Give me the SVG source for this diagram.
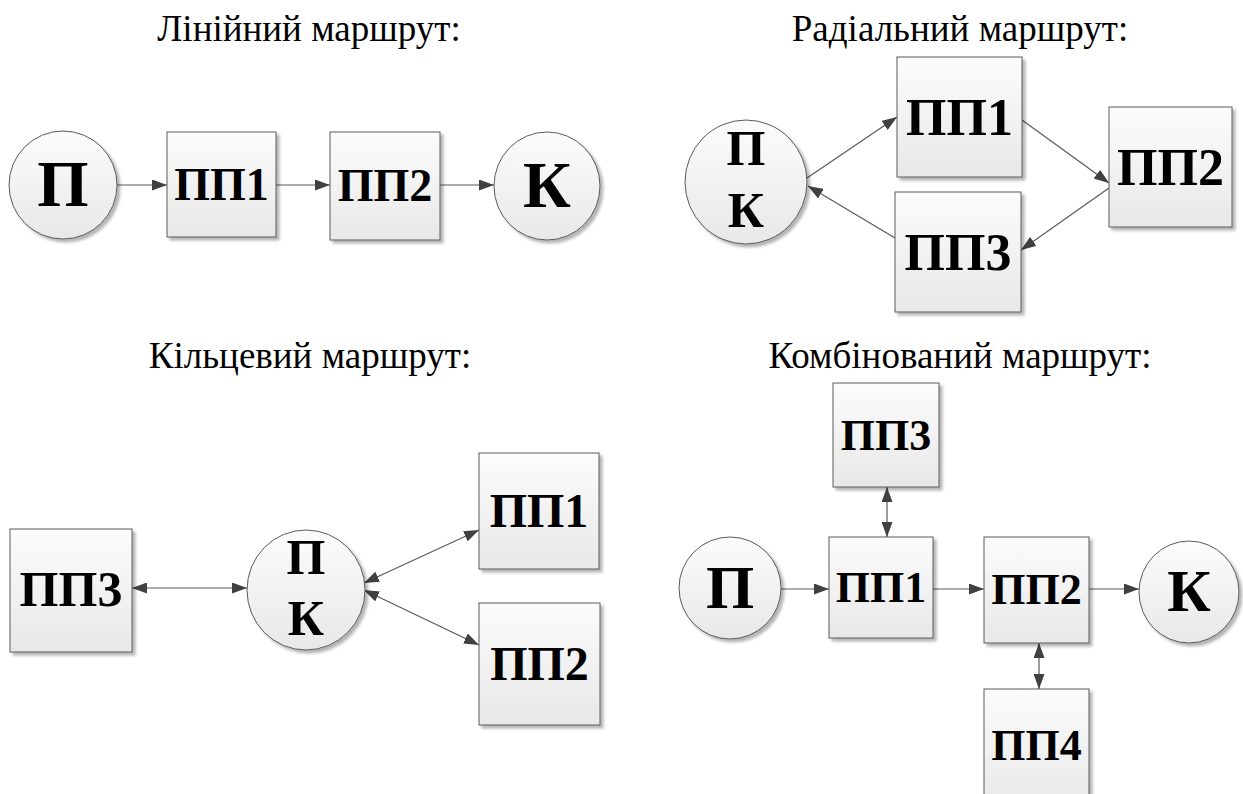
<svg xmlns="http://www.w3.org/2000/svg" width="1243" height="794" viewBox="0 0 1243 794">
<style>
.title{font-family:"Liberation Serif","Times New Roman",serif;font-size:37px;fill:#000;text-anchor:middle}
.lbl{font-family:"Liberation Serif","Times New Roman",serif;font-weight:bold;fill:#000;text-anchor:middle}
.box{fill:url(#g);stroke:#5a5a5a;stroke-width:1;filter:url(#sh)}
.circ{fill:url(#g);stroke:#5a5a5a;stroke-width:1;filter:url(#sh)}
.c{stroke:#5a5a5a;stroke-width:1.2;fill:none}
.a{marker-end:url(#ah)}
.b{marker-start:url(#ah);marker-end:url(#ah)}
</style>
<defs>
<linearGradient id="g" x1="0" y1="0" x2="0" y2="1">
<stop offset="0" stop-color="#fcfcfc"/>
<stop offset="1" stop-color="#e8e8e8"/>
</linearGradient>
<filter id="sh" x="-10%" y="-10%" width="130%" height="130%">
<feGaussianBlur in="SourceAlpha" stdDeviation="1.5"/>
<feOffset dx="3" dy="3" result="o"/>
<feComponentTransfer><feFuncA type="linear" slope="0.3"/></feComponentTransfer>
<feMerge><feMergeNode/><feMergeNode in="SourceGraphic"/></feMerge>
</filter>
<marker id="ah" markerUnits="userSpaceOnUse" markerWidth="15" markerHeight="11" refX="15" refY="5.5" orient="auto-start-reverse" viewBox="0 0 15 11">
<path d="M0,0 L15,5.5 L0,11 z" fill="#404040"/>
</marker>
</defs>
<rect width="1243" height="794" fill="#fff"/>

<text class="title" x="309" y="41">Лінійний маршрут:</text>
<text class="title" x="960" y="41">Радіальний маршрут:</text>
<text class="title" x="310" y="368">Кільцевий маршрут:</text>
<text class="title" x="960" y="368">Комбінований маршрут:</text>

<g id="connectors">
<line class="c a" x1="117" y1="185" x2="167" y2="185"/>
<line class="c a" x1="276" y1="185" x2="330" y2="185"/>
<line class="c a" x1="440" y1="185" x2="494" y2="185"/>

<line class="c a" x1="807" y1="178" x2="897" y2="117"/>
<line class="c a" x1="1022" y1="120" x2="1109" y2="183"/>
<line class="c a" x1="1109" y1="188" x2="1021" y2="250"/>
<line class="c a" x1="895" y1="238" x2="808" y2="186"/>

<line class="c b" x1="132" y1="588" x2="247" y2="588"/>
<line class="c b" x1="364" y1="583" x2="479" y2="530"/>
<line class="c b" x1="364" y1="590" x2="479" y2="645"/>

<line class="c a" x1="781" y1="589" x2="829" y2="589"/>
<line class="c a" x1="933" y1="589" x2="984" y2="589"/>
<line class="c a" x1="1089" y1="589" x2="1139" y2="589"/>
<line class="c b" x1="887" y1="487" x2="887" y2="537"/>
<line class="c b" x1="1039" y1="643" x2="1039" y2="689"/>
</g>

<g id="lin-P"><ellipse class="circ" cx="63" cy="185" rx="54" ry="54"/><text class="lbl" x="63" y="206" font-size="66">П</text></g>
<g id="lin-PP1"><rect class="box" x="167" y="132" width="109" height="105"/><text class="lbl" x="221.5" y="200" font-size="46">ПП1</text></g>
<g id="lin-PP2"><rect class="box" x="330" y="132" width="110" height="108"/><text class="lbl" x="385" y="201" font-size="46">ПП2</text></g>
<g id="lin-K"><ellipse class="circ" cx="547" cy="186" rx="53" ry="54"/><text class="lbl" x="547" y="207" font-size="66">К</text></g>

<g id="rad-PK"><ellipse class="circ" cx="746" cy="182" rx="61" ry="62"/><text class="lbl" x="746" y="165" font-size="50">П</text><text class="lbl" x="746" y="227" font-size="50">К</text></g>
<g id="rad-PP1"><rect class="box" x="897" y="57" width="125" height="120"/><text class="lbl" x="959.5" y="135" font-size="52">ПП1</text></g>
<g id="rad-PP2"><rect class="box" x="1109" y="107" width="123" height="120"/><text class="lbl" x="1170.5" y="185" font-size="52">ПП2</text></g>
<g id="rad-PP3"><rect class="box" x="895" y="192" width="126" height="120"/><text class="lbl" x="958" y="270" font-size="52">ПП3</text></g>

<g id="ring-PP3"><rect class="box" x="10" y="529" width="122" height="123"/><text class="lbl" x="71" y="606" font-size="50">ПП3</text></g>
<g id="ring-PK"><ellipse class="circ" cx="306" cy="590" rx="59" ry="60"/><text class="lbl" x="306" y="574" font-size="50">П</text><text class="lbl" x="306" y="635" font-size="50">К</text></g>
<g id="ring-PP1"><rect class="box" x="479" y="453" width="120" height="116"/><text class="lbl" x="539" y="527" font-size="48">ПП1</text></g>
<g id="ring-PP2"><rect class="box" x="479" y="603" width="121" height="122"/><text class="lbl" x="539.5" y="680" font-size="48">ПП2</text></g>

<g id="comb-P"><ellipse class="circ" cx="730" cy="588" rx="51" ry="51"/><text class="lbl" x="730" y="608" font-size="62">П</text></g>
<g id="comb-PP3"><rect class="box" x="833" y="383" width="106" height="104"/><text class="lbl" x="886" y="450" font-size="44">ПП3</text></g>
<g id="comb-PP1"><rect class="box" x="829" y="537" width="104" height="101"/><text class="lbl" x="881" y="602" font-size="44">ПП1</text></g>
<g id="comb-PP2"><rect class="box" x="984" y="537" width="105" height="106"/><text class="lbl" x="1036.5" y="604" font-size="44">ПП2</text></g>
<g id="comb-PP4"><rect class="box" x="984" y="689" width="105" height="120"/><text class="lbl" x="1036.5" y="760" font-size="44">ПП4</text></g>
<g id="comb-K"><ellipse class="circ" cx="1189" cy="592" rx="50" ry="51"/><text class="lbl" x="1189" y="611" font-size="60">К</text></g>
</svg>
